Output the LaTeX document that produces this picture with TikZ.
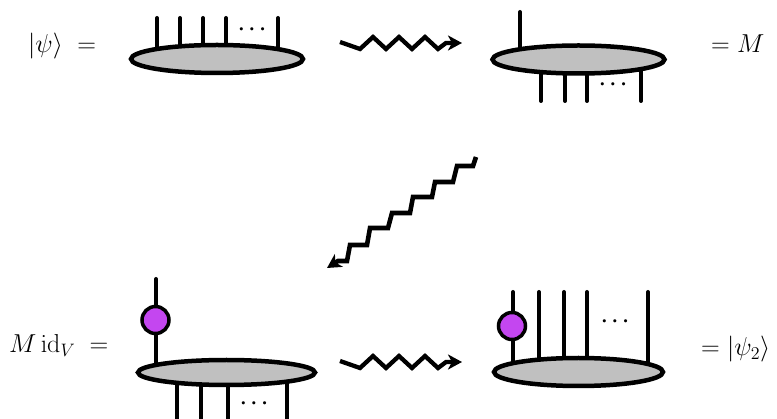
\documentclass[tikz,border=0pt]{standalone}
\usepackage{amsmath}
\usepackage{graphicx}
\usetikzlibrary{arrows.meta,shapes.geometric}
\definecolor{blobgray}{RGB}{192,192,192}
\definecolor{dotpurple}{RGB}{196,70,240}
\newcommand{\biglbl}[1]{\scalebox{1.25}{\huge #1}}
\begin{document}
\begin{tikzpicture}[x=1pt,y=-1pt,
  leg/.style={line width=4pt,line cap=round},
  blob/.style={ellipse,draw=black,fill=blobgray,line width=4.5pt,inner sep=0pt},
  gate/.style={circle,draw=black,fill=dotpurple,line width=3.5pt,inner sep=0pt,minimum size=27pt},
  squig/.style={line width=4.3pt,line join=miter,-{Stealth[length=14pt,width=15pt,inset=4pt]}},
  lbl/.style={inner sep=0pt},
  dots/.style={inner sep=0pt,font=\huge\boldmath}]
\useasboundingbox (0,0) rectangle (777,419);

% ---------- top left: |psi> ----------
\node[lbl,anchor=base west] (t1) at (28,53) {\biglbl{$|\psi\rangle\;=$}};
\foreach \x in {157,180,203,226,278} \draw[leg] (\x,18) -- (\x,58);
\node[dots] (d1) at (254,30) {$\cdots$};
\node[blob,minimum width=172pt,minimum height=28pt] (e1) at (217,59) {};

% ---------- top squiggle ----------
\coordinate (a1s) at (340,42);
\coordinate (a1e) at (462,43);
\draw[squig] (a1s) -- (360,49) -- (373,37) -- (386,49) -- (399,37) -- (412,49) -- (425,37) -- (438,49) -- (446,43) -- (a1e);

% ---------- top right: M ----------
\draw[leg] (520,12) -- (520,58);
\foreach \x in {541,565,587,641} \draw[leg] (\x,62) -- (\x,101);
\node[dots] (d2) at (615,85) {$\cdots$};
\node[blob,minimum width=172pt,minimum height=28pt] (e2) at (578.5,59.5) {};
\node[lbl,anchor=base west] (t2) at (711,53) {\biglbl{$=M$}};

% ---------- diagonal staircase ----------
\coordinate (a2s) at (476,157);
\coordinate (a2e) at (327,268);
\draw[squig,line width=4.6pt] (a2s) -- (473,166) -- (457,166) -- (453,182) -- (435,182) -- (432,197) -- (413,197) -- (410,213) -- (392,213) -- (388,228) -- (370,228) -- (367,245) -- (350,245) -- (347,261) -- (338,261) -- (a2e);

% ---------- bottom left: M id_V ----------
\node[lbl,anchor=base west] (t3) at (9,353) {\biglbl{$M\,\mathrm{id}_V\;=$}};
\draw[leg] (156,279) -- (156,368);
\node[gate] (g1) at (155.5,320) {};
\foreach \x in {177,201,228,287} \draw[leg] (\x,376) -- (\x,425);
\node[dots] (d3) at (256,404) {$\cdots$};
\node[blob,minimum width=177pt,minimum height=25pt] (e3) at (226.5,372.5) {};

% ---------- bottom squiggle ----------
\coordinate (a3s) at (340,361);
\coordinate (a3e) at (462,362);
\draw[squig] (a3s) -- (360,368) -- (373,356) -- (386,368) -- (399,356) -- (412,368) -- (425,356) -- (438,368) -- (446,362) -- (a3e);

% ---------- bottom right: |psi_2> ----------
\draw[leg] (513,292) -- (513,368);
\node[gate] (g2) at (512,326) {};
\foreach \x in {539,564,587,648} \draw[leg] (\x,292) -- (\x,368);
\node[dots] (d4) at (617,322) {$\cdots$};
\node[blob,minimum width=169pt,minimum height=28pt] (e4) at (578.5,372) {};
\node[lbl,anchor=base west] (t4) at (701,356) {\biglbl{$=|\psi_2\rangle$}};
\end{tikzpicture}
\end{document}
